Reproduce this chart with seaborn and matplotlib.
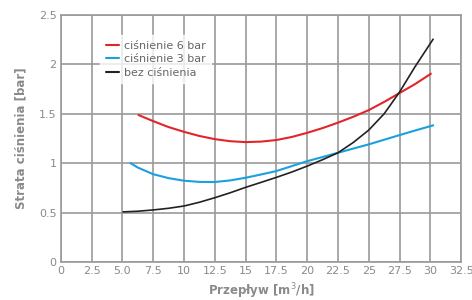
import numpy as np
import pandas as pd
import matplotlib
matplotlib.use("Agg")
import matplotlib.pyplot as plt
import seaborn as sns
from matplotlib.lines import Line2D

# Data
x_6bar = [6.25, 7.5, 8.75, 10, 11.25, 12.5, 13.75, 15, 16.25, 17.5, 18.75, 20, 21.25, 22.5, 23.75, 25, 26.25, 27.5, 28.75, 30.1]
y_6bar = [1.49, 1.425, 1.365, 1.317, 1.275, 1.243, 1.222, 1.213, 1.218, 1.234, 1.265, 1.307, 1.355, 1.41, 1.47, 1.537, 1.62, 1.71, 1.80, 1.91]

x_3bar = [5.6, 6.25, 7.5, 8.75, 10, 11.25, 12.5, 13.75, 15, 16.25, 17.5, 18.75, 20, 21.25, 22.5, 23.75, 25, 26.25, 27.5, 28.75, 30.3]
y_3bar = [1.004, 0.955, 0.888, 0.848, 0.822, 0.81, 0.809, 0.825, 0.852, 0.885, 0.92, 0.97, 1.02, 1.062, 1.105, 1.148, 1.19, 1.237, 1.284, 1.33, 1.385]

x_0bar = [5.0, 6.25, 7.5, 8.75, 10, 11.25, 12.5, 13.75, 15, 16.25, 17.5, 18.75, 20, 21.25, 22.5, 23.75, 25, 26.25, 27.5, 28.75, 30.25]
y_0bar = [0.506, 0.513, 0.526, 0.543, 0.566, 0.604, 0.65, 0.70, 0.755, 0.805, 0.856, 0.91, 0.97, 1.035, 1.105, 1.21, 1.335, 1.50, 1.72, 1.975, 2.26]

series_names = ["ciśnienie 6 bar", "ciśnienie 3 bar", "bez ciśnienia"]
colors = ["#e2252b", "#1aa0de", "#222222"]

x_ticks = [0, 2.5, 5, 7.5, 10, 12.5, 15, 17.5, 20, 22.5, 25, 27.5, 30, 32.5]
x_ticklabels = ["0", "2.5", "5.0", "7.5", "10", "12.5", "15", "17.5", "20", "22.5", "25", "27.5", "30", "32.5"]
y_ticks = [0, 0.5, 1, 1.5, 2, 2.5]
y_ticklabels = ["0", "0.5", "1", "1.5", "2", "2.5"]

df = pd.concat([
    pd.DataFrame({"x": x_6bar, "y": y_6bar, "s": series_names[0]}),
    pd.DataFrame({"x": x_3bar, "y": y_3bar, "s": series_names[1]}),
    pd.DataFrame({"x": x_0bar, "y": y_0bar, "s": series_names[2]}),
])

sns.set_theme(style="white")
plt.rcParams["font.family"] = ["DejaVu Sans"]

fig = plt.figure(figsize=(4.72, 3.0), dpi=100)
ax = fig.add_axes([0.129, 0.127, 0.848, 0.823])

grid_c = "#9a9a9a"
text_c = "#8a8a8a"

sns.lineplot(data=df, x="x", y="y", hue="s", palette=dict(zip(series_names, colors)),
             sort=False, ax=ax, linewidth=1.5, legend=False)
for line, lw in zip(ax.get_lines(), [1.5, 1.5, 1.2]):
    line.set_linewidth(lw)
    line.set_solid_capstyle("butt")
    line.set_solid_joinstyle("round")

ax.set_xlim(0, 32.5)
ax.set_ylim(0, 2.5)
ax.set_xticks(x_ticks)
ax.set_xticklabels(x_ticklabels)
ax.set_yticks(y_ticks)
ax.set_yticklabels(y_ticklabels)
ax.grid(True, color=grid_c, linewidth=1.2)
ax.set_axisbelow(True)
for sp in ax.spines.values():
    sp.set_color(grid_c)
    sp.set_linewidth(1.2)
ax.tick_params(axis="both", length=0, labelsize=8, colors=text_c, pad=3)

ax.set_xlabel("Przepływ [m$^3$/h]", fontsize=8.5, color=text_c, fontweight="bold", labelpad=4)
ax.set_ylabel("Strata ciśnienia [bar]", fontsize=8.5, color=text_c, fontweight="bold", labelpad=8)

handles = [Line2D([0], [0], color=c, lw=1.5) for c in colors]
leg = ax.legend(handles, series_names, loc="upper left", bbox_to_anchor=(0.085, 0.94),
                frameon=True, fontsize=8, handlelength=1.2, handletextpad=0.4,
                labelspacing=0.3, borderpad=0.5, fancybox=False)
leg.get_frame().set_facecolor("white")
leg.get_frame().set_edgecolor("white")
for t in leg.get_texts():
    t.set_color("#666666")

fig.savefig("out.png", dpi=100)
